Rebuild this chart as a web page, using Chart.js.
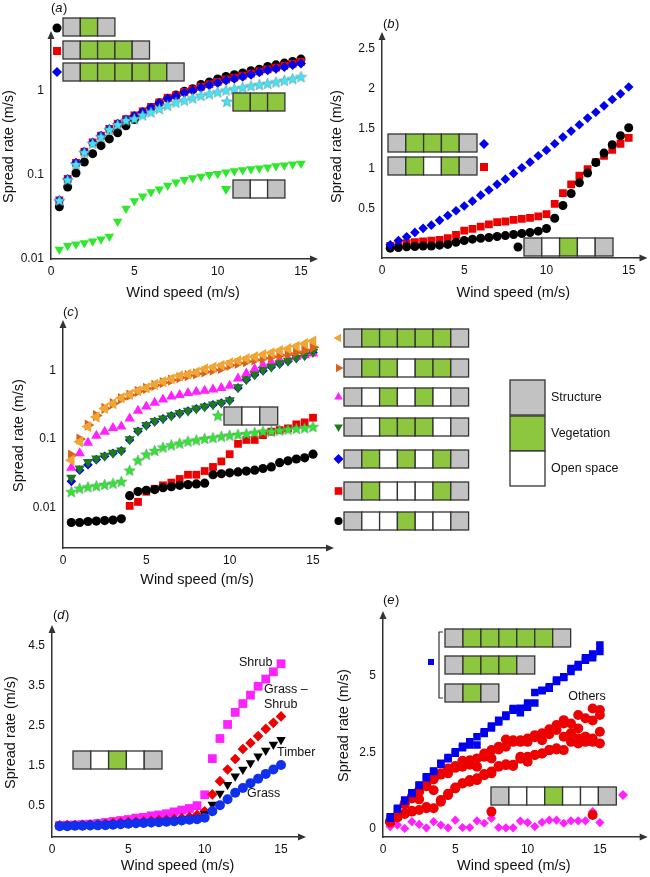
<!DOCTYPE html>
<html>
<head>
<meta charset="utf-8">
<script src="https://cdn.jsdelivr.net/npm/chart.js@4.4.1/dist/chart.umd.min.js"></script>
<style>
    html, body { margin: 0; padding: 0; background: #fff; }
    #wrap { position: relative; width: 650px; height: 877px; }
    #wrap canvas { position: absolute; left: 0; top: 0; }
</style>
</head>
<body>
<div id="wrap">
    <canvas id="pa" width="650" height="877"></canvas>
    <canvas id="pb" width="650" height="877"></canvas>
    <canvas id="pc" width="650" height="877"></canvas>
    <canvas id="pd" width="650" height="877"></canvas>
    <canvas id="pe" width="650" height="877"></canvas>
</div>
<script>
// Wind speed (m/s), shared by every panel
const windSpeed = [0.5, 1, 1.5, 2, 2.5, 3, 3.5, 4, 4.5, 5, 5.5, 6, 6.5, 7, 7.5, 8, 8.5, 9, 9.5, 10, 10.5, 11, 11.5, 12, 12.5, 13, 13.5, 14, 14.5, 15];
const xTicks = [0, 5, 10, 15];

// (a) spread rate, log axis
const aTicks = [0.01, 0.1, 1];
const aSGS = [0.042, 0.072, 0.106, 0.143, 0.18, 0.224, 0.27, 0.32, 0.386, 0.46, 0.55, 0.64, 0.73, 0.82, 0.9, 1.0, 1.07, 1.2, 1.29, 1.4, 1.5, 1.57, 1.65, 1.75, 1.83, 1.97, 2.06, 2.16, 2.26, 2.41];
const aSGGGS = [0.05, 0.09, 0.14, 0.19, 0.245, 0.295, 0.355, 0.41, 0.465, 0.515, 0.575, 0.65, 0.735, 0.835, 0.89, 0.98, 1.05, 1.13, 1.21, 1.29, 1.38, 1.45, 1.53, 1.62, 1.72, 1.82, 1.91, 2.01, 2.12, 2.24];
const aSGGGGGS = [0.05, 0.09, 0.14, 0.19, 0.245, 0.295, 0.355, 0.41, 0.46, 0.507, 0.565, 0.636, 0.72, 0.82, 0.87, 0.955, 1.02, 1.095, 1.18, 1.25, 1.34, 1.41, 1.49, 1.57, 1.68, 1.77, 1.85, 1.94, 2.05, 2.14];
const aGGG = [0.05, 0.088, 0.134, 0.187, 0.239, 0.286, 0.35, 0.4, 0.45, 0.47, 0.52, 0.565, 0.62, 0.68, 0.74, 0.78, 0.83, 0.89, 0.93, 0.98, 1.03, 1.07, 1.11, 1.16, 1.2, 1.24, 1.29, 1.35, 1.41, 1.49];
const aSOS = [0.013, 0.0144, 0.015, 0.0155, 0.0163, 0.0172, 0.0185, 0.028, 0.04, 0.049, 0.056, 0.063, 0.068, 0.075, 0.082, 0.088, 0.092, 0.096, 0.101, 0.104, 0.108, 0.112, 0.115, 0.118, 0.121, 0.124, 0.128, 0.131, 0.135, 0.137];

// (b) spread rate, linear axis
const bTicks = [0.5, 1, 1.5, 2, 2.5];
const bSGGGS = [0.054, 0.108, 0.154, 0.21, 0.26, 0.3, 0.36, 0.42, 0.48, 0.54, 0.6, 0.675, 0.74, 0.81, 0.875, 0.946, 1.017, 1.087, 1.167, 1.237, 1.317, 1.4, 1.475, 1.554, 1.637, 1.71, 1.79, 1.87, 1.94, 2.025];
const bSGOGS = [0.04, 0.06, 0.075, 0.087, 0.096, 0.108, 0.117, 0.137, 0.18, 0.233, 0.254, 0.283, 0.31, 0.337, 0.346, 0.367, 0.38, 0.39, 0.41, 0.437, 0.567, 0.7, 0.81, 0.92, 1.0, 1.087, 1.167, 1.24, 1.317, 1.39];
const bSOGOS = [0.013, 0.02, 0.03, 0.033, 0.04, 0.04, 0.05, 0.06, 0.087, 0.108, 0.125, 0.137, 0.146, 0.158, 0.17, 0.183, 0.196, 0.208, 0.225, 0.258, 0.387, 0.546, 0.696, 0.83, 0.95, 1.083, 1.2, 1.304, 1.417, 1.517];

// (c) seven-cell layouts, log axis
const cTicks = [0.01, 0.1, 1];
const cSGGGGGS = [0.049, 0.091, 0.152, 0.21, 0.28, 0.33, 0.4, 0.45, 0.51, 0.56, 0.63, 0.69, 0.76, 0.84, 0.89, 0.95, 1.06, 1.12, 1.2, 1.3, 1.4, 1.5, 1.6, 1.72, 1.83, 1.97, 2.1, 2.27, 2.48, 2.72];
const cSGGOGGS = [0.058, 0.1, 0.16, 0.22, 0.28, 0.33, 0.39, 0.44, 0.5, 0.55, 0.61, 0.67, 0.73, 0.79, 0.85, 0.9, 0.96, 1.02, 1.08, 1.2, 1.28, 1.36, 1.44, 1.52, 1.6, 1.68, 1.78, 1.88, 2.0, 2.2];
const cSOGOGOS = [0.038, 0.062, 0.088, 0.112, 0.128, 0.145, 0.152, 0.2, 0.26, 0.3, 0.34, 0.38, 0.42, 0.44, 0.47, 0.49, 0.51, 0.53, 0.56, 0.6, 0.77, 0.91, 1.06, 1.21, 1.32, 1.43, 1.51, 1.6, 1.68, 1.79];
const cSOGGGOS = [0.027, 0.037, 0.046, 0.052, 0.057, 0.063, 0.068, 0.099, 0.132, 0.16, 0.183, 0.2, 0.22, 0.24, 0.26, 0.28, 0.3, 0.32, 0.34, 0.37, 0.57, 0.75, 0.88, 1.02, 1.14, 1.28, 1.4, 1.55, 1.68, 1.88];
const cSGOGOGS = [0.024, 0.035, 0.042, 0.05, 0.056, 0.062, 0.067, 0.097, 0.13, 0.158, 0.18, 0.198, 0.218, 0.237, 0.257, 0.277, 0.297, 0.317, 0.337, 0.367, 0.56, 0.74, 0.87, 1.0, 1.13, 1.26, 1.38, 1.53, 1.66, 1.85];
const cSGOOOGS = [null, null, null, null, null, null, null, 0.0105, 0.012, 0.0169, 0.0187, 0.021, 0.023, 0.026, 0.03, 0.03, 0.034, 0.039, 0.047, 0.06, 0.085, 0.097, 0.097, 0.114, 0.128, 0.135, 0.143, 0.164, 0.175, 0.205];
const cSOOGOOS = [0.006, 0.006, 0.0062, 0.0063, 0.0064, 0.0065, 0.0068, 0.0148, 0.017, 0.0178, 0.0182, 0.0194, 0.02, 0.021, 0.0215, 0.022, 0.0226, 0.03, 0.031, 0.032, 0.033, 0.034, 0.035, 0.037, 0.039, 0.045, 0.048, 0.051, 0.053, 0.06];
const cSOS = [0.017, 0.019, 0.02, 0.0207, 0.0216, 0.0226, 0.024, 0.035, 0.049, 0.06, 0.068, 0.076, 0.082, 0.087, 0.093, 0.097, 0.102, 0.105, 0.11, 0.114, 0.117, 0.12, 0.125, 0.13, 0.13, 0.135, 0.139, 0.143, 0.146, 0.152];

// (d) vegetation types
const dTicks = [0.5, 1.5, 2.5, 3.5, 4.5];
const dShrub = [0.02, 0.025, 0.03, 0.04, 0.05, 0.066, 0.09, 0.116, 0.14, 0.165, 0.2, 0.22, 0.256, 0.28, 0.31, 0.355, 0.4, 0.44, 0.51, 0.78, 1.68, 2.18, 2.53, 2.83, 3.05, 3.26, 3.48, 3.66, 3.84, 4.04];
const dGrassShrub = [0.02, 0.03, 0.03, 0.035, 0.04, 0.05, 0.06, 0.075, 0.09, 0.1, 0.11, 0.12, 0.13, 0.15, 0.16, 0.18, 0.2, 0.23, 0.28, 0.37, 0.79, 1.12, 1.41, 1.67, 1.92, 2.07, 2.24, 2.42, 2.57, 2.73];
const dTimber = [0.01, 0.015, 0.02, 0.025, 0.03, 0.035, 0.04, 0.05, 0.06, 0.07, 0.08, 0.09, 0.1, 0.11, 0.12, 0.13, 0.15, 0.17, 0.19, 0.3, 0.54, 0.81, 1.03, 1.24, 1.41, 1.57, 1.74, 1.88, 2.03, 2.15];
const dGrass = [0.0, 0.0, 0.01, 0.01, 0.015, 0.02, 0.025, 0.035, 0.045, 0.06, 0.07, 0.08, 0.09, 0.1, 0.11, 0.12, 0.14, 0.16, 0.17, 0.21, 0.37, 0.52, 0.67, 0.83, 0.95, 1.07, 1.18, 1.3, 1.41, 1.52];

// (e) continuous vegetation vs others
const eTicks = [0, 2.5, 5];
const eBlueUpper = [0.4, 0.68, 0.95, 1.19, 1.44, 1.71, 1.9, 2.15, 2.34, 2.53, 2.71, 2.85, 3.02, 3.18, 3.37, 3.56, 3.73, 3.94, 3.95, 4.12, 4.46, 4.54, 4.65, 4.87, 4.98, 5.25, 5.38, 5.6, 5.72, 6.02];
const eBlueLower = [0.35, 0.65, 0.92, 1.16, 1.42, 1.68, 1.88, 2.12, 2.3, 2.48, 2.66, 2.75, 2.75, 3.12, 3.3, 3.5, 3.68, 3.88, 3.8, 3.98, 4.12, 4.52, 4.6, 4.82, 4.95, 5.15, 5.3, 5.52, 5.6, 5.8];
const eRed1 = [0.24, 0.42, 0.84, 1.06, 1.27, 1.44, 1.66, 1.82, 1.98, 2.06, 2.23, 2.25, 2.31, 2.47, 2.58, 2.69, 2.93, 2.9, 2.9, 2.96, 3.07, 3.13, 3.26, 3.4, 3.56, 3.45, 3.73, 3.62, 3.94, 3.89];
const eRed2 = [0.24, 0.4, 0.8, 1.0, 1.22, 1.4, 1.62, 1.78, 1.82, 2.0, 2.04, 2.1, 2.04, 2.36, 2.31, 2.6, 2.69, 2.85, 2.85, 2.85, 3.0, 2.9, 3.1, 3.24, 3.45, 3.13, 3.29, 3.02, 3.55, 3.73];
const eRed3 = [0.26, 0.45, 0.51, 0.6, 0.97, 0.72, 1.27, 0.95, 1.15, 1.36, 1.5, 1.6, 1.66, 1.8, 1.88, 2.06, 2.12, 2.1, 2.36, 2.36, 2.42, 2.47, 2.58, 2.64, 3.02, 3.13, 2.96, 3.02, 2.96, 3.18];
const eRed4 = [0.22, 0.38, 0.49, 0.57, 0.62, 0.68, 0.68, 0.89, 1.11, 1.33, 1.49, 1.55, 1.6, 1.76, 1.82, 2.04, 2.09, 2.06, 2.3, 2.2, 2.42, 2.47, 2.58, 2.6, 2.58, 2.85, 2.8, 2.85, 2.85, 2.8];
const eRedOutX = [7.5, 14.5];
const eRedOutY = [0.57, 0.46];
const eMagenta = [0.08, 0.13, 0.02, 0.24, 0.15, 0.04, 0.24, 0.13, 0.04, 0.29, 0.05, 0.05, 0.27, 0.19, 0.35, 0.05, 0.04, 0.04, 0.26, 0.21, 0.08, 0.22, 0.29, 0.29, 0.19, 0.27, 0.27, 0.27, 0.57, 0.21];

// colours
const BLACK = '#000000', RED = '#ee0000', BLUE = '#0000ee', CYAN = '#44e4f4';
const LIME = '#2ee82e', MAGENTA = '#ff22ff', DKGREEN = '#1c7a1c';
const ORANGE = '#f0a632', RUST = '#d9621e';
const CELL = { S: '#c2c2c2', G: '#8dc63f', O: '#ffffff' };
const FONT = '"Liberation Sans", Arial, Helvetica, sans-serif';

Chart.defaults.font.family = FONT;
Chart.defaults.color = '#111';

// filled five point star used as a point style
function starImage(color, size) {
    const c = document.createElement('canvas');
    c.width = size; c.height = size;
    const g = c.getContext('2d');
    drawStar(g, size / 2, size / 2 + 0.6, size / 2 - 0.5, color);
    return c;
}

function drawStar(g, cx, cy, R, color) {
    const r = R * 0.45;
    g.beginPath();
    for (let k = 0; k < 10; k++) {
        const rad = k % 2 === 0 ? R : r;
        const ang = -Math.PI / 2 + k * Math.PI / 5;
        g.lineTo(cx + rad * Math.cos(ang), cy + rad * Math.sin(ang));
    }
    g.closePath();
    g.fillStyle = color;
    g.fill();
    g.lineWidth = 0.7;
    g.strokeStyle = 'rgba(90,110,110,0.6)';
    g.stroke();
}

const cyanStar = starImage(CYAN, 13);
const limeStar = starImage(LIME, 13);

// marker drawn outside the data (legend keys)
function drawMarker(g, shape, x, y, r, color, rot) {
    g.save();
    g.fillStyle = color;
    g.beginPath();
    if (shape === 'circle') {
        g.arc(x, y, r, 0, Math.PI * 2);
    } else if (shape === 'square') {
        g.rect(x - r, y - r, 2 * r, 2 * r);
    } else if (shape === 'diamond') {
        g.moveTo(x, y - r); g.lineTo(x + r, y); g.lineTo(x, y + r); g.lineTo(x - r, y);
    } else if (shape === 'triangle') {
        let a = (rot || 0) * Math.PI / 180;
        for (let k = 0; k < 3; k++) {
            g.lineTo(x + Math.sin(a) * r, y - Math.cos(a) * r);
            a += Math.PI * 2 / 3;
        }
    } else if (shape === 'star') {
        g.restore();
        drawStar(g, x, y, r, color);
        return;
    }
    g.closePath();
    g.fill();
    g.restore();
}

// row of structure / vegetation / open space cells
function drawStrip(g, x, y, pattern, cw, ch) {
    g.save();
    g.lineWidth = 1.3;
    g.strokeStyle = '#333';
    for (let i = 0; i < pattern.length; i++) {
        g.fillStyle = CELL[pattern[i]];
        g.fillRect(x + i * cw, y, cw, ch);
        g.strokeRect(x + i * cw, y, cw, ch);
    }
    g.restore();
}

function panelLabel(g, x, y, letter) {
    g.save();
    g.fillStyle = '#111';
    g.textBaseline = 'middle';
    g.textAlign = 'left';
    g.font = '13px ' + FONT;
    g.fillText('(', x, y);
    let w = g.measureText('(').width;
    g.font = 'italic 13px ' + FONT;
    g.fillText(letter, x + w, y);
    w += g.measureText(letter).width + 0.5;
    g.font = '13px ' + FONT;
    g.fillText(')', x + w, y);
    g.restore();
}

function text(g, s, x, y, align) {
    g.save();
    g.fillStyle = '#111';
    g.font = '12.5px ' + FONT;
    g.textBaseline = 'middle';
    g.textAlign = align || 'left';
    g.fillText(s, x, y);
    g.restore();
}

function series(values, style) {
    const pts = [];
    windSpeed.forEach((x, i) => {
        if (values[i] !== null) pts.push({ x: x, y: values[i] });
    });
    return Object.assign({ data: pts, showLine: false, pointBorderWidth: 0 }, style);
}

const arrowPlugin = {
    id: 'arrows',
    afterDraw(chart) {
        const g = chart.ctx;
        const { left, top, right, bottom } = chart.chartArea;
        g.save();
        g.fillStyle = '#333';
        g.beginPath();
        g.moveTo(left, top - 3); g.lineTo(left - 3.5, top + 5); g.lineTo(left + 3.5, top + 5);
        g.fill();
        g.beginPath();
        g.moveTo(right + 3, bottom); g.lineTo(right - 5, bottom - 3.5); g.lineTo(right - 5, bottom + 3.5);
        g.fill();
        g.restore();
    }
};

const HALF_TITLE = 14.5 * 1.2 / 2;

function makePanel(id, p) {
    const padLeft = p.yTitleX - HALF_TITLE;
    const xH = p.xTitleY - p.area.b + HALF_TITLE;
    return new Chart(document.getElementById(id).getContext('2d'), {
        type: 'scatter',
        data: { datasets: p.datasets },
        options: {
            responsive: false,
            devicePixelRatio: 1,
            animation: false,
            events: [],
            layout: {
                padding: {
                    left: padLeft,
                    top: p.area.t,
                    right: 650 - p.area.r,
                    bottom: 877 - p.area.b - xH
                }
            },
            plugins: { legend: { display: false }, tooltip: { enabled: false } },
            scales: {
                x: {
                    type: 'linear',
                    min: 0,
                    max: p.xMax,
                    bounds: 'data',
                    grid: { display: false, drawTicks: false },
                    border: { color: '#333', width: 1.5 },
                    ticks: { font: { size: 12 }, padding: 5, color: '#111', callback: v => String(v) },
                    afterBuildTicks: s => { s.ticks = xTicks.map(v => ({ value: v })); },
                    afterFit: s => { s.height = xH; },
                    title: { display: true, text: 'Wind speed (m/s)', font: { size: 14.5 }, padding: 0, color: '#111' }
                },
                y: {
                    type: p.yType,
                    min: p.yMin,
                    max: p.yMax,
                    bounds: 'data',
                    grid: { display: false, drawTicks: false },
                    border: { color: '#333', width: 1.5 },
                    ticks: { font: { size: 12 }, padding: 7, color: '#111', callback: v => String(v) },
                    afterBuildTicks: s => { s.ticks = p.yTicks.map(v => ({ value: v })); },
                    afterFit: s => { s.width = p.area.l - padLeft; },
                    title: { display: true, text: 'Spread rate (m/s)', font: { size: 14.5 }, padding: 0, color: '#111' }
                }
            }
        },
        plugins: [arrowPlugin, { id: 'deco', afterDraw: chart => p.deco(chart.ctx, chart) }]
    });
}

// (a)
makePanel('pa', {
    area: { l: 51, t: 34, r: 315, b: 259 },
    yTitleX: 9, xTitleY: 293,
    xMax: 15.84, yType: 'logarithmic', yMin: 0.01, yMax: 4.8, yTicks: aTicks,
    datasets: [
        series(aGGG, { pointStyle: cyanStar, pointRadius: 6 }),
        series(aSGGGGGS, { pointStyle: 'rectRot', pointRadius: 5, backgroundColor: BLUE }),
        series(aSGGGS, { pointStyle: 'rect', pointRadius: 5.5, backgroundColor: RED }),
        series(aSGS, { pointStyle: 'circle', pointRadius: 4.5, backgroundColor: BLACK }),
        series(aSOS, { pointStyle: 'triangle', pointRotation: 180, pointRadius: 5.5, backgroundColor: LIME })
    ],
    deco: g => {
        panelLabel(g, 51, 8, 'a');
        drawStrip(g, 63, 18, 'SGS', 17.3, 18);
        drawMarker(g, 'circle', 57, 28, 4.5, BLACK);
        drawStrip(g, 63, 41, 'SGGGS', 17.3, 18);
        drawMarker(g, 'square', 57, 51, 4, RED);
        drawStrip(g, 63, 63, 'SGGGGGS', 17.3, 18);
        drawMarker(g, 'diamond', 57, 72, 5, BLUE);
        drawStrip(g, 233, 93, 'GGG', 17.3, 18);
        drawMarker(g, 'star', 227, 102, 6, CYAN);
        drawStrip(g, 233, 180, 'SOS', 17.3, 18);
        drawMarker(g, 'triangle', 226, 189, 6, LIME, 180);
    }
});

// (b)
makePanel('pb', {
    area: { l: 382, t: 35, r: 647, b: 258 },
    yTitleX: 337, xTitleY: 293,
    xMax: 15.96, yType: 'linear', yMin: -0.11, yMax: 2.675, yTicks: bTicks,
    datasets: [
        series(bSGGGS, { pointStyle: 'rectRot', pointRadius: 4.8, backgroundColor: BLUE }),
        series(bSOGOS, { pointStyle: 'circle', pointRadius: 4.5, backgroundColor: BLACK }),
        series(bSGOGS, { pointStyle: 'rect', pointRadius: 5.5, backgroundColor: RED })
    ],
    deco: g => {
        panelLabel(g, 383, 24, 'b');
        drawStrip(g, 388, 134, 'SGGGS', 17.8, 18);
        drawMarker(g, 'diamond', 484, 144, 5, BLUE);
        drawStrip(g, 388, 157, 'SGOGS', 17.8, 18);
        drawMarker(g, 'square', 484, 167, 4, RED);
        drawStrip(g, 524, 238, 'SOGOS', 17.8, 18);
        drawMarker(g, 'circle', 518, 247, 4.5, BLACK);
    }
});

// (c)
const cRows = [
    { p: 'SGGGGGS', shape: 'triangle', rot: 270, color: ORANGE },
    { p: 'SGGOGGS', shape: 'triangle', rot: 90, color: RUST },
    { p: 'SOGOGOS', shape: 'triangle', rot: 0, color: MAGENTA },
    { p: 'SOGGGOS', shape: 'triangle', rot: 180, color: DKGREEN },
    { p: 'SGOGOGS', shape: 'diamond', rot: 0, color: BLUE },
    { p: 'SGOOOGS', shape: 'square', rot: 0, color: RED },
    { p: 'SOOGOOS', shape: 'circle', rot: 0, color: BLACK }
];
const cRowTops = [329, 359, 388, 418, 450, 482, 512];

makePanel('pc', {
    area: { l: 63, t: 323, r: 331, b: 548 },
    yTitleX: 19, xTitleY: 580,
    xMax: 16.08, yType: 'logarithmic', yMin: 0.00254, yMax: 4.99, yTicks: cTicks,
    datasets: [
        series(cSGGGGGS, { pointStyle: 'triangle', pointRotation: 270, pointRadius: 6.5, backgroundColor: ORANGE }),
        series(cSGGOGGS, { pointStyle: 'triangle', pointRotation: 90, pointRadius: 6.5, backgroundColor: RUST }),
        series(cSOGGGOS, { pointStyle: 'triangle', pointRotation: 180, pointRadius: 6, backgroundColor: DKGREEN }),
        series(cSOGOGOS, { pointStyle: 'triangle', pointRadius: 6, backgroundColor: MAGENTA }),
        series(cSGOGOGS, { pointStyle: 'rectRot', pointRadius: 4.8, backgroundColor: BLUE }),
        series(cSOS, { pointStyle: limeStar, pointRadius: 6 }),
        series(cSOOGOOS, { pointStyle: 'circle', pointRadius: 4.6, backgroundColor: BLACK }),
        series(cSGOOOGS, { pointStyle: 'rect', pointRadius: 5.5, backgroundColor: RED })
    ],
    deco: g => {
        panelLabel(g, 63, 312, 'c');
        drawStrip(g, 224, 407, 'SOS', 17.9, 18);
        drawMarker(g, 'star', 218, 416, 6, LIME);
        cRows.forEach((row, i) => {
            drawStrip(g, 344, cRowTops[i], row.p, 17.8, 18);
            const r = row.shape === 'square' ? 3.8 : (row.shape === 'circle' ? 4 : 5);
            drawMarker(g, row.shape, 338.5, cRowTops[i] + 9, r, row.color, row.rot);
        });
        // cell key
        g.save();
        g.lineWidth = 1.3;
        g.strokeStyle = '#333';
        [['S', 380, 'Structure'], ['G', 416, 'Vegetation'], ['O', 451, 'Open space']].forEach(k => {
            g.fillStyle = CELL[k[0]];
            g.fillRect(510, k[1], 35, 35);
            g.strokeRect(510, k[1], 35, 35);
            text(g, k[2], 551, k[1] + 17.5);
        });
        g.restore();
    }
});

// (d)
makePanel('pd', {
    area: { l: 52, t: 628, r: 303, b: 837 },
    yTitleX: 11, xTitleY: 866,
    xMax: 16.44, yType: 'linear', yMin: -0.27, yMax: 4.93, yTicks: dTicks,
    datasets: [
        series(dGrass, { pointStyle: 'circle', pointRadius: 5, backgroundColor: '#1030ee' }),
        series(dTimber, { pointStyle: 'triangle', pointRotation: 180, pointRadius: 5.5, backgroundColor: BLACK }),
        series(dGrassShrub, { pointStyle: 'rectRot', pointRadius: 5.3, backgroundColor: RED }),
        series(dShrub, { pointStyle: 'rect', pointRadius: 6.2, backgroundColor: MAGENTA })
    ],
    deco: g => {
        panelLabel(g, 53, 615, 'd');
        drawStrip(g, 73, 751, 'SOGOS', 17.8, 18);
        text(g, 'Shrub', 239, 663);
        text(g, 'Grass \u2013', 264, 690);
        text(g, 'Shrub', 264, 705);
        text(g, 'Timber', 277, 753);
        text(g, 'Grass', 247, 794);
    }
});

// (e)
const eOutliers = {
    data: eRedOutX.map((x, i) => ({ x: x, y: eRedOutY[i] })),
    showLine: false, pointBorderWidth: 0, pointStyle: 'circle', pointRadius: 5, backgroundColor: RED
};

makePanel('pe', {
    area: { l: 383, t: 614, r: 647, b: 837 },
    yTitleX: 344, xTitleY: 866,
    xMax: 18.1, yType: 'linear', yMin: -0.26, yMax: 7.03, yTicks: eTicks,
    datasets: [
        series(eBlueUpper, { pointStyle: 'rect', pointRadius: 5.3, backgroundColor: BLUE }),
        series(eBlueLower, { pointStyle: 'rect', pointRadius: 5.3, backgroundColor: BLUE }),
        series(eRed1, { pointStyle: 'circle', pointRadius: 5, backgroundColor: RED }),
        series(eRed2, { pointStyle: 'circle', pointRadius: 5, backgroundColor: RED }),
        series(eRed3, { pointStyle: 'circle', pointRadius: 5, backgroundColor: RED }),
        series(eRed4, { pointStyle: 'circle', pointRadius: 5, backgroundColor: RED }),
        eOutliers,
        series(eMagenta, { pointStyle: 'rectRot', pointRadius: 4.6, backgroundColor: MAGENTA })
    ],
    deco: g => {
        panelLabel(g, 383, 600, 'e');
        drawStrip(g, 445, 629, 'SGGGGGS', 17.95, 18);
        drawStrip(g, 445, 656, 'SGGGS', 17.95, 18);
        drawStrip(g, 445, 684, 'SGS', 17.95, 18);
        g.save();
        g.strokeStyle = '#333';
        g.lineWidth = 1.2;
        g.beginPath();
        g.moveTo(443, 632); g.lineTo(439, 632); g.lineTo(439, 698); g.lineTo(443, 698);
        g.stroke();
        g.restore();
        drawMarker(g, 'square', 431, 662, 3, BLUE);
        drawStrip(g, 491, 787, 'SOOGOOS', 17.9, 18);
        drawMarker(g, 'diamond', 623, 795, 5, MAGENTA);
        text(g, 'Others', 587, 697, 'center');
    }
});
</script>
</body>
</html>
